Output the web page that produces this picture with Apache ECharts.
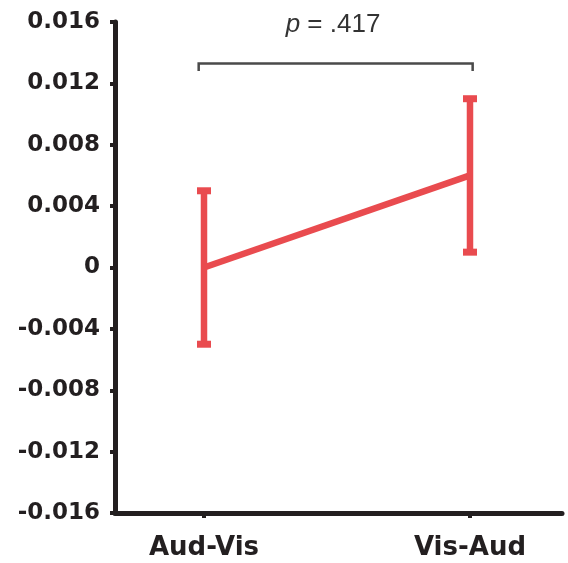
<!DOCTYPE html>
<html>
<head>
<meta charset="utf-8">
<script src="https://cdn.jsdelivr.net/npm/echarts@6/dist/echarts.min.js"></script>
<style>html,body{margin:0;padding:0;background:#fff;}#c{width:568px;height:563px;}</style>
</head>
<body>
<div id="c"></div>
<script>
// Data
var categories = ['Aud-Vis', 'Vis-Aud'];
var categoryPos = [0, 1];
var means = [0, 0.006];
var errLow = [-0.005, 0.001];
var errHigh = [0.005, 0.011];
var yTicks = [-0.016, -0.012, -0.008, -0.004, 0, 0.004, 0.008, 0.012, 0.016];
var bracketX = [-0.02, 1.01];
var bracketY = 0.0133;
var bracketDrop = 0.0005;
var pText = '.417';
var pTextPos = [0.485, 0.0158];

var RED = '#e94b4f';
var DARK = '#231f20';

var chart = echarts.init(document.getElementById('c'), null, {renderer: 'canvas'});

var lineData = categoryPos.map(function (x, i) { return [x, means[i]]; });
var errData = categoryPos.map(function (x, i) { return [x, errLow[i], errHigh[i]]; });

function fmtY(v) {
  var r = Math.round(v * 1000) / 1000;
  if (r === 0) return '0';
  return r.toFixed(3);
}

var option = {
  backgroundColor: '#fff',
  animation: false,
  grid: {left: 115, right: 6, top: 22, bottom: 50, containLabel: false},
  xAxis: {
    type: 'value',
    min: -0.3346,
    max: 1.3459,
    splitLine: {show: false},
    axisLine: {show: true, onZero: false, lineStyle: {color: DARK, width: 5}},
    axisTick: {show: true, customValues: categoryPos, length: 5, lineStyle: {color: DARK, width: 4}},
    axisLabel: {
      customValues: categoryPos,
      formatter: function (v) { var i = categoryPos.indexOf(Math.round(v)); return i >= 0 ? categories[i] : ''; },
      fontFamily: 'DejaVu Sans', fontWeight: 'bold', fontSize: 26, color: DARK, margin: 22
    }
  },
  yAxis: {
    type: 'value',
    min: -0.016,
    max: 0.016,
    interval: 0.004,
    splitLine: {show: false},
    axisLine: {show: true, onZero: false, lineStyle: {color: DARK, width: 5}},
    axisTick: {show: true, length: 5, lineStyle: {color: DARK, width: 4}},
    axisLabel: {
      formatter: fmtY,
      fontFamily: 'DejaVu Sans', fontWeight: 'bold', fontSize: 23, color: DARK, margin: 15
    }
  },
  series: [
    {
      type: 'line',
      data: lineData,
      symbol: 'none',
      lineStyle: {color: RED, width: 6.5},
      z: 3
    },
    {
      type: 'custom',
      data: errData,
      z: 4,
      renderItem: function (params, api) {
        var x = api.value(0);
        var lo = api.coord([x, api.value(1)]);
        var hi = api.coord([x, api.value(2)]);
        var capW = 14, capH = 7;
        return {
          type: 'group',
          children: [
            {type: 'line', shape: {x1: lo[0], y1: lo[1], x2: hi[0], y2: hi[1]}, style: {stroke: RED, lineWidth: 6.5}},
            {type: 'rect', shape: {x: hi[0] - capW / 2, y: hi[1] - capH / 2, width: capW, height: capH}, style: {fill: RED}},
            {type: 'rect', shape: {x: lo[0] - capW / 2, y: lo[1] - capH / 2, width: capW, height: capH}, style: {fill: RED}}
          ]
        };
      }
    },
    {
      type: 'custom',
      data: [[bracketX[0], bracketX[1], bracketY]],
      z: 5,
      clip: false,
      renderItem: function (params, api) {
        var a = api.coord([api.value(0), api.value(2)]);
        var b = api.coord([api.value(1), api.value(2)]);
        var a2 = api.coord([api.value(0), api.value(2) - bracketDrop]);
        var b2 = api.coord([api.value(1), api.value(2) - bracketDrop]);
        var t = api.coord(pTextPos);
        return {
          type: 'group',
          children: [
            {type: 'polyline', shape: {points: [a2, a, b, b2]}, style: {stroke: '#4a4a4a', lineWidth: 2.5, fill: null}},
            {type: 'text', x: t[0], y: t[1], style: {
              text: '{i|p} = ' + pText,
              align: 'center', verticalAlign: 'middle',
              fontFamily: 'Liberation Sans', fontSize: 26, fill: '#333',
              rich: {i: {fontStyle: 'italic', fontFamily: 'Liberation Sans', fontSize: 26, fill: '#333'}}
            }}
          ]
        };
      }
    }
  ]
};
chart.setOption(option);
</script>
</body>
</html>
